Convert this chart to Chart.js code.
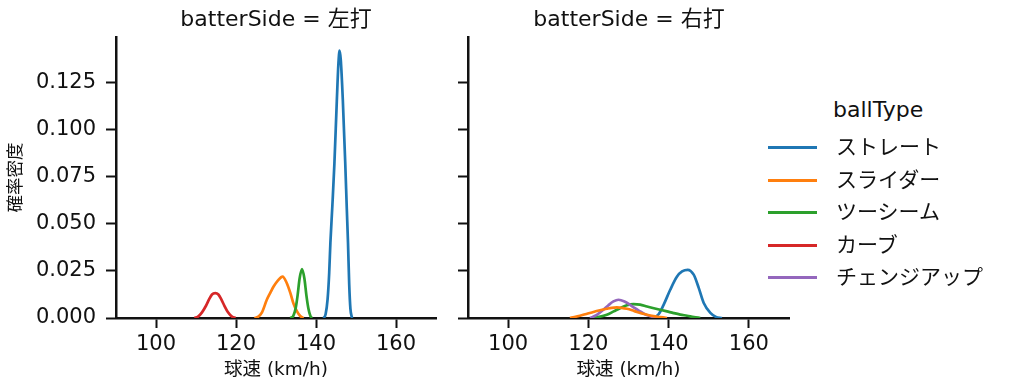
<!DOCTYPE html>
<html>
<head>
<meta charset="utf-8">
<script src="https://cdn.jsdelivr.net/npm/chart.js@4.4.1/dist/chart.umd.min.js"></script>
<style>
  body { margin: 0; background: #fff; width: 1014px; height: 391px; overflow: hidden; position: relative; font-family: 'DejaVu Sans', 'Noto Sans CJK JP', sans-serif; }
  canvas { position: absolute; top: 0; }
  .ttl { position: absolute; top: 4px; font-size: 22px; line-height: 30px; color: #111; white-space: nowrap; transform: translateX(-50%); }
  #legend { position: absolute; left: 768px; top: 96px; color: #111; }
  #legend .head { position: absolute; left: 65px; top: 1px; font-size: 22px; white-space: nowrap; }
  #legend .row { position: absolute; left: 0; height: 30px; width: 240px; }
  #legend .row span.ln { position: absolute; left: 0; top: 14px; width: 49px; height: 3px; }
  #legend .row span.tx { position: absolute; left: 68px; top: 0; font-size: 21px; line-height: 30px; white-space: nowrap; }
</style>
</head>
<body>
<canvas id="left" width="450" height="391" style="left:0"></canvas>
<canvas id="right" width="350" height="391" style="left:450px"></canvas>
<div class="ttl" style="left:276px">batterSide = 左打</div>
<div class="ttl" style="left:629px">batterSide = 右打</div>
<div id="legend"></div>
<script>
// 球種
const ballTypes = ['ストレート', 'スライダー', 'ツーシーム', 'カーブ', 'チェンジアップ'];
const colors = ['#1f77b4', '#ff7f0e', '#2ca02c', '#d62728', '#9467bd'];

const xTicks = [100, 120, 140, 160];
const yTicks = [0, 0.025, 0.05, 0.075, 0.1, 0.125];

// 左打 : [球速, 確率密度]
const leftStraight = [[141.9,0],[142.4,0.002],[142.9,0.010],[143.3,0.024],[143.6,0.040],[144.1,0.060],[144.6,0.082],[145.2,0.115],[145.6,0.135],[145.9,0.142],[146.2,0.137],[146.7,0.116],[147.3,0.083],[147.7,0.058],[148.0,0.040],[148.3,0.018],[148.6,0.005],[149.0,0]];
const leftSlider = [[124.6,0],[125.5,0.0006],[126.5,0.003],[127.7,0.0097],[128.6,0.0135],[129.4,0.0167],[130.5,0.020],[131.65,0.022],[132.6,0.019],[133.6,0.0132],[134.4,0.0075],[135.25,0.0035],[136.0,0.0012],[136.9,0]];
const leftTwoSeam = [[133.6,0],[134.3,0.001],[134.9,0.005],[135.4,0.012],[135.9,0.021],[136.5,0.026],[137.1,0.021],[137.6,0.012],[138.1,0.005],[138.6,0.001],[139.0,0]];
const leftCurve = [[109.6,0],[110.5,0.0007],[111.5,0.003],[112.5,0.0065],[113.3,0.010],[114.0,0.0125],[114.8,0.0132],[115.6,0.0125],[116.3,0.010],[117.1,0.0065],[118.0,0.003],[119.0,0.0007],[119.9,0]];

// 右打
const rightStraight = [[135.8,0],[137.5,0.002],[138.75,0.007],[140.4,0.015],[142.1,0.022],[143.35,0.0247],[144.75,0.0256],[146.25,0.023],[147.5,0.016],[148.75,0.008],[150.4,0.0027],[151.8,0.0006],[153.3,0]];
const rightSlider = [[115.4,0],[116.5,0.0005],[117.9,0.0012],[119.5,0.0021],[121.25,0.0032],[122.9,0.0041],[124.6,0.0049],[125.8,0.0054],[127.1,0.0056],[128.3,0.0054],[129.6,0.0049],[130.9,0.0041],[132.1,0.0032],[133.4,0.0024],[134.6,0.0017],[136.2,0.001],[137.9,0.0005],[139.6,0]];
const rightTwoSeam = [[120.8,0],[122.7,0.0006],[124.6,0.0017],[126.3,0.0035],[128.0,0.0053],[129.6,0.0068],[131.25,0.0074],[132.9,0.0071],[134.6,0.0061],[136.3,0.0052],[137.9,0.0044],[139.6,0.0035],[141.25,0.0026],[142.9,0.0018],[144.6,0.0012],[146.3,0.0005],[147.9,0]];
const rightChangeup = [[120.4,0],[122.0,0.0015],[123.75,0.0044],[125.0,0.0068],[126.25,0.0088],[127.5,0.0097],[129.0,0.0088],[130.4,0.007],[131.6,0.0052],[132.9,0.0035],[134.1,0.002],[135.4,0.001],[137.0,0]];

const FONT = "'DejaVu Sans', 'Noto Sans CJK JP', sans-serif";
Chart.defaults.font.family = FONT;
Chart.defaults.color = '#111';

function makeDatasets(list) {
    return list.map(([idx, pts]) => ({
        label: ballTypes[idx],
        data: pts.map(p => ({ x: p[0], y: p[1] })),
        borderColor: colors[idx],
        borderWidth: 2.7,
        pointRadius: 0,
        cubicInterpolationMode: 'monotone',
        fill: false
    }));
}

function makeOptions(showYLabels, yWidth, rightPad) {
    return {
        responsive: false,
        animation: false,
        layout: { padding: { top: 37, left: 0, right: rightPad, bottom: 0 } },
        plugins: { legend: { display: false }, tooltip: { enabled: false } },
        scales: {
            x: {
                type: 'linear', min: 90, max: 170,
                afterBuildTicks: s => { s.ticks = xTicks.map(v => ({ value: v })); },
                afterFit: s => { s.height = 73; },
                ticks: { font: { size: 21 }, padding: 4, color: '#111', maxRotation: 0 },
                grid: { drawOnChartArea: false, tickLength: 10, tickColor: '#111', tickWidth: 2 },
                border: { color: '#111', width: 2.5 },
                title: { display: true, text: '球速 (km/h)', font: { size: 18.5 }, color: '#111', padding: { top: 0, bottom: 10 } }
            },
            y: {
                type: 'linear', min: 0, max: 0.1492,
                afterBuildTicks: s => { s.ticks = yTicks.map(v => ({ value: v })); },
                afterFit: s => { s.width = yWidth; },
                ticks: { display: showYLabels, font: { size: 21 }, padding: 10, color: '#111', callback: v => v.toFixed(3) },
                grid: { drawOnChartArea: false, tickLength: 10, tickColor: '#111', tickWidth: 2 },
                border: { color: '#111', width: 2.5 },
                title: { display: showYLabels, text: '確率密度', font: { size: 17.5 }, color: '#111', padding: { top: 6, bottom: 0 } }
            }
        }
    };
}

new Chart(document.getElementById('left'), {
    type: 'line',
    data: { datasets: makeDatasets([[3, leftCurve], [2, leftTwoSeam], [1, leftSlider], [0, leftStraight]]) },
    options: makeOptions(true, 116, 14)
});

new Chart(document.getElementById('right'), {
    type: 'line',
    data: { datasets: makeDatasets([[1, rightSlider], [4, rightChangeup], [2, rightTwoSeam], [0, rightStraight]]) },
    options: makeOptions(false, 18, 11)
});

// 凡例
const legend = document.getElementById('legend');
legend.innerHTML = '<div class="head">ballType</div>' + ballTypes.map((t, i) =>
    `<div class="row" style="top:${36 + i * 32.5}px"><span class="ln" style="background:${colors[i]}"></span><span class="tx">${t}</span></div>`
).join('');
</script>
</body>
</html>
